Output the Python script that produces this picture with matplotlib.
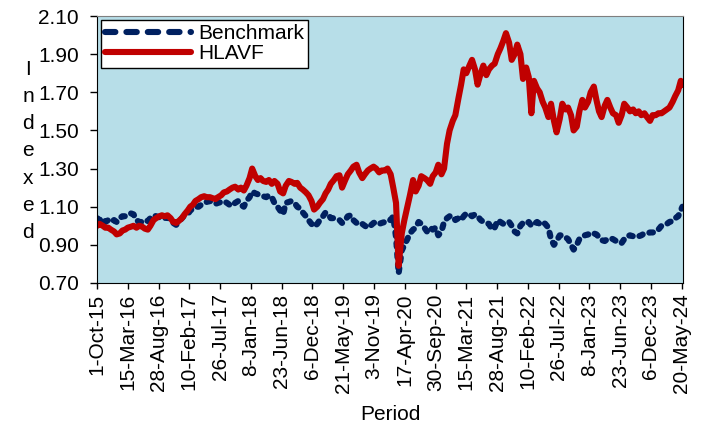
"""HLAVF vs benchmark: indexed value over time (Excel-style line chart)."""

import matplotlib

matplotlib.use("Agg")
import matplotlib.pyplot as plt
import numpy as np
import pandas as pd
from matplotlib.lines import Line2D

plt.rcParams["font.family"] = ["Liberation Sans", "DejaVu Sans"]

# Semi-monthly readings (1st and 16th), Oct 2015 .. May 2024, plus last point.
dates = list(pd.date_range("2015-10-01", "2024-05-16", freq="SMS")) + [pd.Timestamp("2024-05-24")]

hlavf = [
    1.00, 1.01, 1.00, 0.99, 0.99, 0.98,  # 2015
    0.97, 0.955, 0.96, 0.975, 0.98, 0.99, 0.995, 1.00, 0.99, 1.00, 0.995, 0.985,
    0.98, 1.00, 1.03, 1.04, 1.05, 1.055, 1.05, 1.055, 1.04, 1.02, 1.015, 1.025,  # 2016
    1.04, 1.06, 1.08, 1.10, 1.11, 1.13, 1.14, 1.15, 1.155, 1.15, 1.15, 1.145,
    1.14, 1.15, 1.16, 1.175, 1.18, 1.19, 1.20, 1.205, 1.19, 1.20, 1.185, 1.21,  # 2017
    1.25, 1.30, 1.26, 1.24, 1.25, 1.235, 1.23, 1.24, 1.22, 1.235, 1.22, 1.18,
    1.17, 1.21, 1.235, 1.23, 1.22, 1.225, 1.20, 1.19, 1.175, 1.16, 1.13, 1.085,  # 2018
    1.10, 1.12, 1.14, 1.17, 1.19, 1.22, 1.24, 1.26, 1.265, 1.20, 1.24, 1.27,
    1.29, 1.31, 1.32, 1.28, 1.25, 1.27, 1.29, 1.30, 1.31, 1.30, 1.28, 1.29,  # 2019
    1.29, 1.30, 1.27, 1.20, 1.12, 0.79, 0.96, 1.03, 1.10, 1.16, 1.24, 1.18,
    1.21, 1.26, 1.25, 1.24, 1.22, 1.26, 1.28, 1.32, 1.27, 1.30, 1.43, 1.50,  # 2020
    1.55, 1.58, 1.67, 1.74, 1.82, 1.80, 1.84, 1.87, 1.82, 1.74, 1.80, 1.84,
    1.79, 1.82, 1.84, 1.85, 1.90, 1.93, 1.97, 2.01, 1.96, 1.87, 1.90, 1.95,  # 2021
    1.90, 1.77, 1.83, 1.78, 1.59, 1.76, 1.72, 1.70, 1.65, 1.62, 1.57, 1.64,
    1.55, 1.49, 1.56, 1.64, 1.61, 1.62, 1.58, 1.50, 1.52, 1.60, 1.66, 1.62,  # 2022
    1.65, 1.70, 1.73, 1.66, 1.60, 1.57, 1.63, 1.66, 1.62, 1.59, 1.58, 1.54,
    1.58, 1.64, 1.62, 1.60, 1.61, 1.59, 1.60, 1.58, 1.59, 1.57, 1.55, 1.58,  # 2023
    1.58, 1.59, 1.59, 1.60, 1.61, 1.62, 1.65, 1.68, 1.71, 1.76, 1.74,  # 2024
]

benchmark = [
    1.04, 1.03, 1.04, 1.02, 1.03, 1.02,  # 2015
    1.03, 1.02, 1.04, 1.05, 1.05, 1.06, 1.065, 1.06, 1.03, 1.02, 1.02, 1.03,
    1.025, 1.04, 1.055, 1.05, 1.045, 1.05, 1.04, 1.045, 1.03, 1.015, 1.005, 1.02,  # 2016
    1.04, 1.055, 1.06, 1.08, 1.09, 1.10, 1.10, 1.11, 1.12, 1.125, 1.13, 1.12,
    1.115, 1.12, 1.125, 1.13, 1.12, 1.11, 1.105, 1.12, 1.13, 1.11, 1.10, 1.13,  # 2017
    1.15, 1.18, 1.17, 1.165, 1.16, 1.155, 1.15, 1.16, 1.15, 1.12, 1.10, 1.08,
    1.06, 1.12, 1.125, 1.13, 1.12, 1.10, 1.09, 1.07, 1.05, 1.03, 1.01, 0.995,  # 2018
    1.01, 1.03, 1.05, 1.07, 1.06, 1.04, 1.04, 1.035, 1.03, 1.015, 1.03, 1.05,
    1.055, 1.03, 1.015, 1.02, 1.01, 1.00, 0.99, 1.00, 1.015, 1.02, 1.01, 1.015,  # 2019
    1.02, 1.03, 1.03, 1.05, 0.94, 0.75, 0.87, 0.90, 0.93, 0.96, 0.98, 0.99,
    1.02, 1.01, 0.99, 0.97, 0.99, 0.98, 0.99, 0.95, 0.97, 1.02, 1.04, 1.05,  # 2020
    1.05, 1.03, 1.04, 1.03, 1.05, 1.065, 1.06, 1.05, 1.06, 1.05, 1.03, 1.02,
    1.015, 1.01, 0.98, 0.99, 1.03, 1.02, 1.01, 1.02, 1.02, 1.00, 0.97, 0.96,  # 2021
    1.00, 1.015, 1.01, 1.02, 1.00, 1.01, 1.02, 1.01, 1.02, 1.01, 0.99, 0.93,
    0.90, 0.92, 0.95, 0.95, 0.94, 0.93, 0.90, 0.875, 0.90, 0.93, 0.94, 0.95,  # 2022
    0.955, 0.95, 0.96, 0.955, 0.94, 0.925, 0.92, 0.93, 0.935, 0.93, 0.92, 0.91,
    0.91, 0.93, 0.945, 0.95, 0.945, 0.94, 0.945, 0.95, 0.96, 0.96, 0.965, 0.965,  # 2023
    0.968, 0.98, 1.00, 1.005, 1.01, 1.02, 1.025, 1.04, 1.05, 1.08, 1.10,  # 2024
]

tick_labels = [
    "1-Oct-15", "15-Mar-16", "28-Aug-16", "10-Feb-17", "26-Jul-17", "8-Jan-18",
    "23-Jun-18", "6-Dec-18", "21-May-19", "3-Nov-19", "17-Apr-20", "30-Sep-20",
    "15-Mar-21", "28-Aug-21", "10-Feb-22", "26-Jul-22", "8-Jan-23", "23-Jun-23",
    "6-Dec-23", "20-May-24",
]
y_ticks = [0.70, 0.90, 1.10, 1.30, 1.50, 1.70, 1.90, 2.10]

assert len(dates) == len(hlavf) == len(benchmark)

NAVY = "#002060"
RED = "#C00000"
BG = "#B7DEE8"
FS = 15
LW = 4.4

W, H = 702, 428
fig = plt.figure(figsize=(W / 100, H / 100), dpi=100)
ax = fig.add_axes([97 / W, 1 - 283 / H, (683 - 97) / W, (283 - 16) / H])
ax.set_facecolor(BG)

ax.plot(dates, benchmark, color=NAVY, lw=LW, ls=(0, (0.6, 1.15)),
        dash_capstyle="round", solid_capstyle="round")
ax.plot(dates, hlavf, color=RED, lw=LW, solid_joinstyle="round")

ax.set_xlim(pd.Timestamp("2015-10-01"), pd.Timestamp("2024-05-27"))
tick_pos = pd.to_datetime(tick_labels, format="%d-%b-%y")
ax.set_xticks(tick_pos)
ax.set_xticklabels(tick_labels, rotation=90, fontsize=FS)
ax.set_ylim(0.70, 2.10)
ax.set_yticks(y_ticks)
ax.set_yticklabels([f"{v:.2f}" for v in y_ticks], fontsize=FS)
ax.tick_params(axis="x", direction="out", length=4.5, width=1, pad=3)
ax.tick_params(axis="y", direction="out", length=5, width=1, pad=8)

for side in ("left", "bottom", "right"):
    ax.spines[side].set_color("black")
ax.spines["top"].set_color("#7f7f7f")

handles = [
    Line2D([], [], color=NAVY, lw=LW, ls=(0, (1.7, 1.8)), dash_capstyle="round"),
    Line2D([], [], color=RED, lw=LW, solid_capstyle="round"),
]
leg = ax.legend(handles, ["Benchmark", "HLAVF"], loc="upper left", fontsize=FS,
                frameon=True, fancybox=False, framealpha=1, edgecolor="black",
                borderaxespad=0.2, borderpad=0.2, labelspacing=0.05,
                handlelength=4.1, handletextpad=0.35)
leg.get_frame().set_linewidth(1.0)

fig.text(28 / W, 1 - 151 / H, "I\nn\nd\ne\nx\ne\nd", ha="center", va="center",
         fontsize=FS, linespacing=1.55)
fig.text(390 / W, 1 - 415 / H, "Period", ha="center", va="center", fontsize=FS)

fig.savefig("out.png", dpi=100)
